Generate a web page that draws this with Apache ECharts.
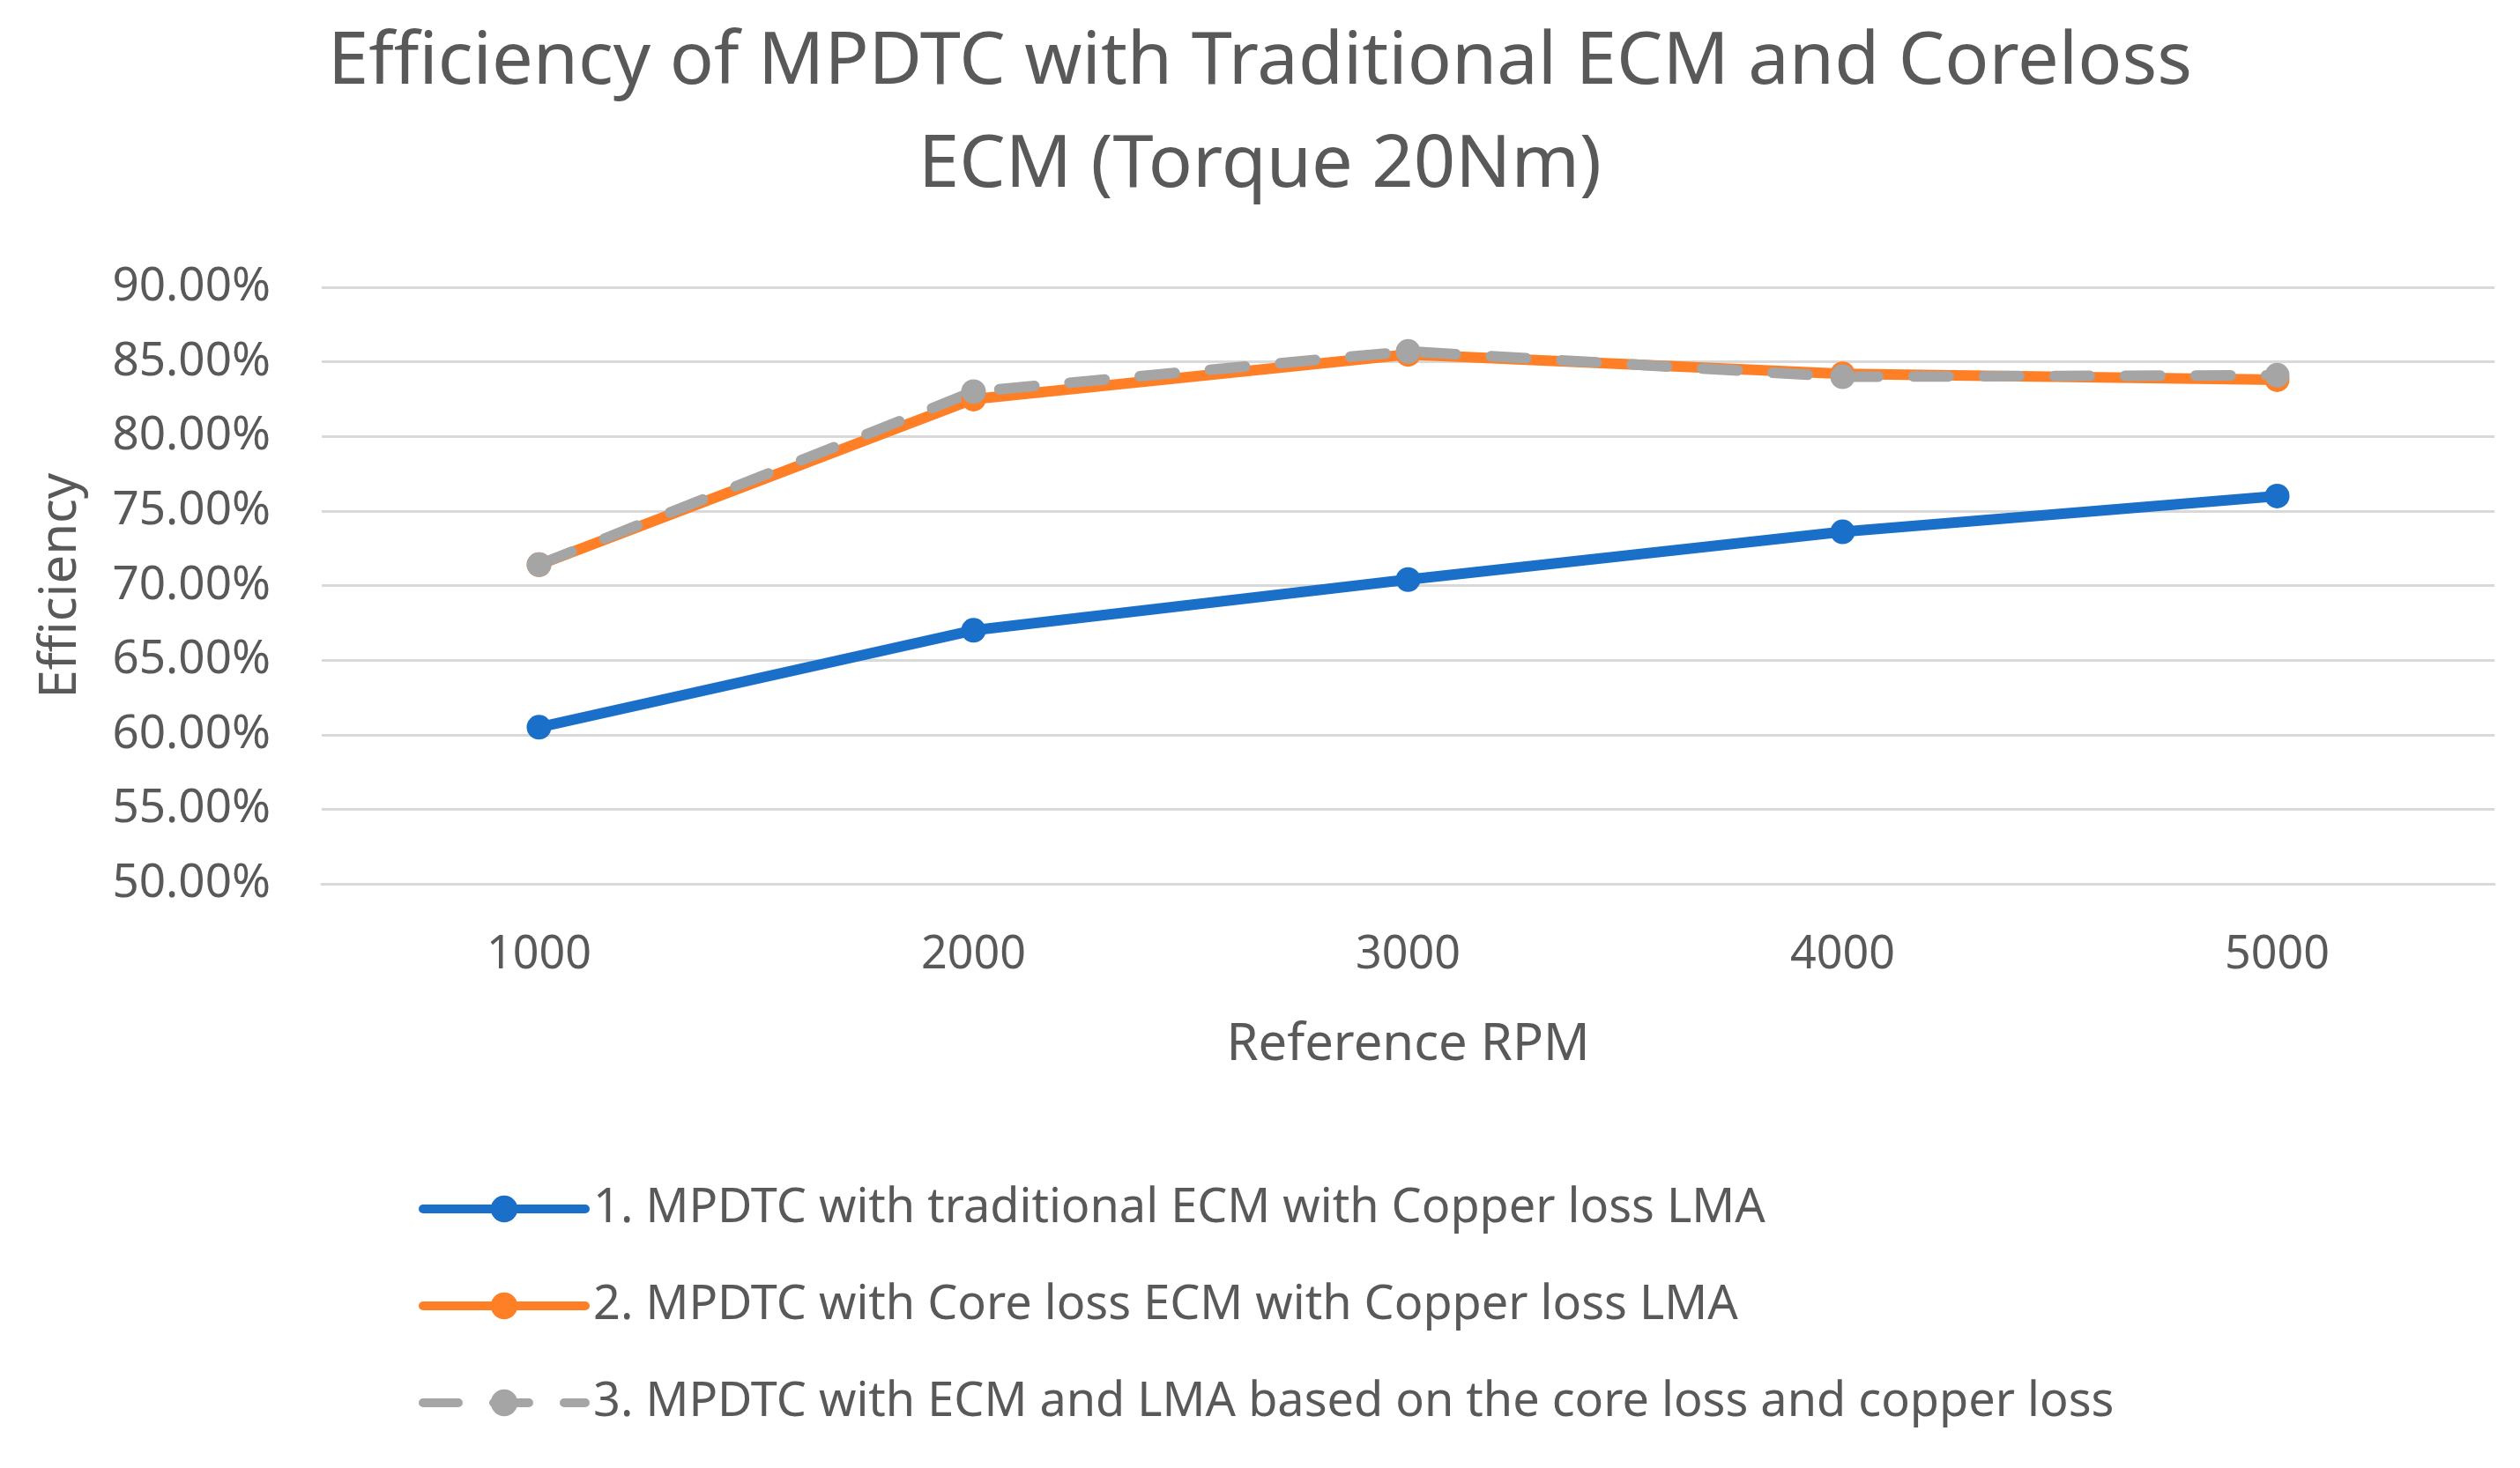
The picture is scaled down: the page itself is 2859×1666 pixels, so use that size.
<!DOCTYPE html>
<html>
<head>
<meta charset="utf-8">
<script src="https://cdn.jsdelivr.net/npm/echarts@6/dist/echarts.min.js"></script>
<style>
html,body{margin:0;padding:0;background:#fff;}
#chart{width:2859px;height:1666px;}
</style>
</head>
<body>
<div id="chart"></div>
<script>
const categories = ['1000', '2000', '3000', '4000', '5000'];
const seriesNames = [
  '1. MPDTC with traditional ECM with Copper loss LMA',
  '2. MPDTC with Core loss ECM with Copper loss LMA',
  '3. MPDTC with ECM and LMA based on the core loss and copper loss'
];
const traditionalECM = [60.5, 67.0, 70.4, 73.6, 76.0];
const corelossECM = [71.4, 82.5, 85.5, 84.2, 83.8];
const corelossBoth = [71.4, 83.0, 85.7, 84.0, 84.1];
const yTicks = { min: 50, max: 90, interval: 5 };

const FONT = '"Noto Sans", "Open Sans", sans-serif';
const TXT = '#595959';
const colors = ['#1a6fc8', '#ff7f27', '#a5a5a5'];

const chart = echarts.init(document.getElementById('chart'));
const mk = (name, data, color, dashed) => ({
  name: name,
  type: 'line',
  data: data,
  symbol: 'circle',
  symbolSize: 28,
  itemStyle: { color: color },
  lineStyle: { color: color, width: 12, type: dashed ? [40, 40] : 'solid', cap: 'round' },
  emphasis: { disabled: true },
  animation: false
});
chart.setOption({
  backgroundColor: '#ffffff',
  textStyle: { fontFamily: FONT },
  title: {
    text: 'Efficiency of MPDTC with Traditional ECM and Coreloss\nECM (Torque 20Nm)',
    left: 'center',
    top: 8,
    textStyle: { fontFamily: FONT, fontSize: 83, fontWeight: 'normal', color: TXT, lineHeight: 117 }
  },
  legend: {
    orient: 'vertical',
    left: 470,
    top: 1340,
    itemWidth: 184,
    itemHeight: 38,
    itemGap: 56,
    data: seriesNames,
    lineStyle: { width: 10 },
    textStyle: { fontFamily: FONT, fontSize: 54, color: TXT, padding: [0, 0, 0, 4] }
  },
  grid: { left: 365, right: 29, top: 326, bottom: 663, containLabel: false },
  xAxis: {
    type: 'category',
    data: categories,
    boundaryGap: true,
    name: 'Reference RPM',
    nameLocation: 'middle',
    nameGap: 154,
    nameTextStyle: { fontFamily: FONT, fontSize: 58, color: TXT },
    axisLine: { show: true, lineStyle: { color: '#d9d9d9', width: 3 } },
    axisTick: { show: false },
    axisLabel: { fontFamily: FONT, fontSize: 52, color: TXT, margin: 55 }
  },
  yAxis: {
    type: 'value',
    min: yTicks.min,
    max: yTicks.max,
    interval: yTicks.interval,
    name: 'Efficiency',
    nameLocation: 'middle',
    nameGap: 267,
    nameTextStyle: { fontFamily: FONT, fontSize: 58, color: TXT },
    axisLine: { show: false },
    axisTick: { show: false },
    splitLine: { lineStyle: { color: '#d9d9d9', width: 3 } },
    axisLabel: {
      fontFamily: FONT, fontSize: 53, color: TXT, margin: 58,
      formatter: v => v.toFixed(2) + '%'
    }
  },
  series: [
    mk(seriesNames[0], traditionalECM, colors[0], false),
    mk(seriesNames[1], corelossECM, colors[1], false),
    mk(seriesNames[2], corelossBoth, colors[2], true)
  ]
});
</script>
</body>
</html>
